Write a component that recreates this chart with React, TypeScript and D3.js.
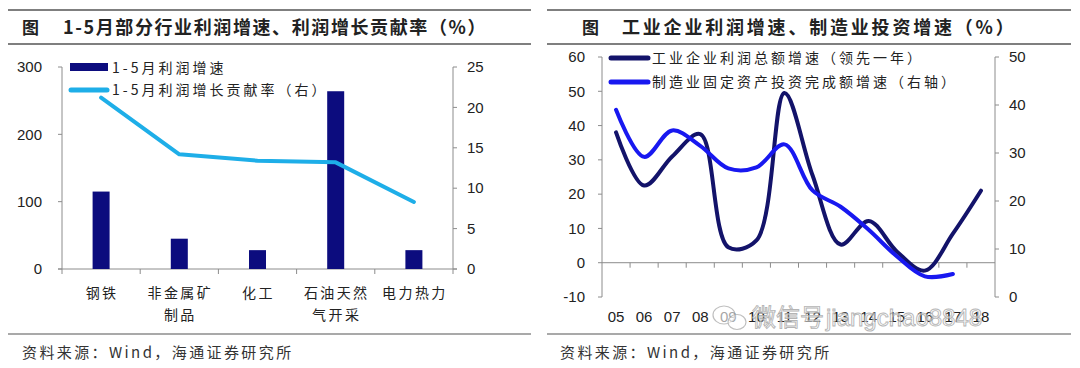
import React, { useEffect, useRef } from 'react';
import * as d3 from 'd3';

// left chart: 1-5月部分行业
const industries = ['钢铁', '非金属矿\n制品', '化工', '石油天然\n气开采', '电力热力'];
const profitGrowth = [115, 45, 28, 264, 28];
const contribution = [21.2, 14.2, 13.4, 13.2, 8.3];
const leftTicks = [0, 100, 200, 300];
const rightTicks = [0, 5, 10, 15, 20, 25];

// right chart: annual series
const years = ['05', '06', '07', '08', '09', '10', '11', '12', '13', '14', '15', '16', '17', '18'];
const profitTotal = [38, 22.5, 31, 37.5, 4.5, 6.5, 49.5, 25.5, 5.3, 12.2, 3.3, -2.3, 8.5, 21];
const mfgInvest = [39, 29.2, 34.7, 31.5, 26.8, 27, 31.8, 22.2, 18.8, 14, 8.5, 4.3, 4.8];
const profitTicks = [-10, 0, 10, 20, 30, 40, 50, 60];
const investTicks = [0, 10, 20, 30, 40, 50];

const CJK = '"Noto Sans CJK SC", sans-serif';
const LAT = '"Liberation Sans", Arial, sans-serif';
const AXIS = '#8c8c8c';

const App = () => {
    const ref = useRef<SVGSVGElement>(null);

    useEffect(() => {
        const svg = d3.select(ref.current);
        svg.selectAll('*').remove();

        // frame: rules, titles, sources
        const panels = [
            { x0: 8, x1: 531, icon: 22, tx: 63, ls: 1.6, title: '1-5月部分行业利润增速、利润增长贡献率（%）', src: 22 },
            { x0: 547, x1: 1071, icon: 582, tx: 622, ls: 2.8, title: '工业企业利润增速、制造业投资增速（%）', src: 560 },
        ];
        panels.forEach(p => {
            [10, 44].forEach(y =>
                svg.append('line')
                    .attr('x1', p.x0).attr('x2', p.x1).attr('y1', y).attr('y2', y)
                    .attr('stroke', '#7f7f7f').attr('stroke-width', 2)
            );
            svg.append('line')
                .attr('x1', p.x0).attr('x2', p.x1).attr('y1', 334).attr('y2', 334)
                .attr('stroke', '#555').attr('stroke-width', 1.2);
            svg.append('text')
                .attr('x', p.icon).attr('y', 34)
                .style('font', `bold 17px ${CJK}`).attr('fill', '#222')
                .text('图');
            svg.append('text')
                .attr('x', p.tx).attr('y', 34)
                .style('font', `bold 18px ${CJK}`).style('letter-spacing', `${p.ls}px`)
                .attr('fill', '#222')
                .text(p.title);
            svg.append('text')
                .attr('x', p.src).attr('y', 358)
                .style('font', `15px ${CJK}`).style('letter-spacing', '2.4px').attr('fill', '#333')
                .text('资料来源：Wind，海通证券研究所');
        });

        // ---------- left chart ----------
        const L = { x0: 62, x1: 453, top: 67, bot: 269 };
        const xb = d3.scaleBand().domain(industries).range([L.x0, L.x1]);
        const yl = d3.scaleLinear().domain([0, 300]).range([L.bot, L.top]);
        const yr = d3.scaleLinear().domain([0, 25]).range([L.bot, L.top]);
        const gl = svg.append('g');

        gl.append('line').attr('x1', L.x0).attr('x2', L.x0).attr('y1', L.top).attr('y2', L.bot).attr('stroke', AXIS);
        gl.append('line').attr('x1', L.x1).attr('x2', L.x1).attr('y1', L.top).attr('y2', L.bot).attr('stroke', AXIS);
        gl.append('line').attr('x1', L.x0 - 4).attr('x2', L.x1 + 4).attr('y1', L.bot).attr('y2', L.bot).attr('stroke', AXIS);
        leftTicks.forEach(t => {
            gl.append('line').attr('x1', L.x0 - 4).attr('x2', L.x0).attr('y1', yl(t)).attr('y2', yl(t)).attr('stroke', AXIS);
            gl.append('text').attr('x', 42).attr('y', yl(t)).attr('dy', '0.35em')
                .attr('text-anchor', 'end').style('font', `15px ${LAT}`).attr('fill', '#222').text(t);
        });
        rightTicks.forEach(t => {
            gl.append('line').attr('x1', L.x1).attr('x2', L.x1 + 4).attr('y1', yr(t)).attr('y2', yr(t)).attr('stroke', AXIS);
            gl.append('text').attr('x', 467).attr('y', yr(t)).attr('dy', '0.35em')
                .style('font', `15px ${LAT}`).attr('fill', '#222').text(t);
        });
        industries.forEach(c => {
            const x = xb(c)!;
            gl.append('line').attr('x1', x).attr('x2', x).attr('y1', L.bot).attr('y2', L.bot + 5).attr('stroke', AXIS);
        });
        gl.append('line').attr('x1', L.x1).attr('x2', L.x1).attr('y1', L.bot).attr('y2', L.bot + 5).attr('stroke', AXIS);

        const bw = 17;
        gl.selectAll('rect.bar').data(profitGrowth).enter().append('rect')
            .attr('x', (d, i) => xb(industries[i])! + xb.bandwidth() / 2 - bw / 2)
            .attr('y', d => yl(d))
            .attr('width', bw)
            .attr('height', d => L.bot - yl(d))
            .attr('fill', '#0c0c7e');

        const lineL = d3.line<number>()
            .x((d, i) => xb(industries[i])! + xb.bandwidth() / 2)
            .y(d => yr(d));
        gl.append('path').attr('d', lineL(contribution))
            .attr('fill', 'none').attr('stroke', '#1eaee8').attr('stroke-width', 4)
            .attr('stroke-linejoin', 'round').attr('stroke-linecap', 'round');

        industries.forEach(c => {
            const cx = xb(c)! + xb.bandwidth() / 2;
            c.split('\n').forEach((s, k) => {
                gl.append('text').attr('x', cx + 1).attr('y', 298 + k * 22)
                    .attr('text-anchor', 'middle')
                    .style('font', `14px ${CJK}`).style('letter-spacing', '2.4px')
                    .attr('fill', '#222').text(s);
            });
        });

        // legend
        gl.append('rect').attr('x', 70).attr('y', 63).attr('width', 38).attr('height', 8).attr('fill', '#0c0c7e');
        gl.append('line').attr('x1', 71).attr('x2', 107).attr('y1', 90).attr('y2', 90)
            .attr('stroke', '#1eaee8').attr('stroke-width', 5).attr('stroke-linecap', 'round');
        [['1-5月利润增速', 68], ['1-5月利润增长贡献率（右）', 90]].forEach(([s, y]) =>
            gl.append('text').attr('x', 112).attr('y', y as number).attr('dy', '0.36em')
                .style('font', `14px ${CJK}`).style('letter-spacing', '3px')
                .attr('fill', '#222').text(s as string)
        );

        // ---------- right chart ----------
        const R = { x0: 602, x1: 995, top: 57, bot: 297 };
        const xr = d3.scaleBand().domain(years).range([R.x0, R.x1]);
        const ya = d3.scaleLinear().domain([-10, 60]).range([R.bot, R.top]);
        const yb = d3.scaleLinear().domain([0, 50]).range([R.bot, R.top]);
        const gr = svg.append('g');
        const y0 = ya(0);

        gr.append('line').attr('x1', R.x0).attr('x2', R.x0).attr('y1', R.top).attr('y2', R.bot).attr('stroke', AXIS);
        gr.append('line').attr('x1', R.x1).attr('x2', R.x1).attr('y1', R.top).attr('y2', R.bot).attr('stroke', AXIS);
        gr.append('line').attr('x1', R.x0).attr('x2', R.x1).attr('y1', y0).attr('y2', y0).attr('stroke', AXIS);
        profitTicks.forEach(t => {
            gr.append('line').attr('x1', R.x0 - 4).attr('x2', R.x0).attr('y1', ya(t)).attr('y2', ya(t)).attr('stroke', AXIS);
            gr.append('text').attr('x', 585).attr('y', ya(t)).attr('dy', '0.35em')
                .attr('text-anchor', 'end').style('font', `15px ${LAT}`).attr('fill', '#222').text(t);
        });
        investTicks.forEach(t => {
            gr.append('line').attr('x1', R.x1).attr('x2', R.x1 + 4).attr('y1', yb(t)).attr('y2', yb(t)).attr('stroke', AXIS);
            gr.append('text').attr('x', 1009).attr('y', yb(t)).attr('dy', '0.35em')
                .style('font', `15px ${LAT}`).attr('fill', '#222').text(t);
        });
        years.slice(1).forEach(c => {
            const x = xr(c)!;
            gr.append('line').attr('x1', x).attr('x2', x).attr('y1', y0).attr('y2', y0 + 5).attr('stroke', AXIS);
        });

        const cxr = (i: number) => xr(years[i])! + xr.bandwidth() / 2;
        const smooth = d3.curveCatmullRom.alpha(0.5);
        gr.append('path')
            .attr('d', d3.line<number>().x((d, i) => cxr(i)).y(d => ya(d)).curve(smooth)(profitTotal))
            .attr('fill', 'none').attr('stroke', '#13136a').attr('stroke-width', 4).attr('stroke-linecap', 'round');
        gr.append('path')
            .attr('d', d3.line<number>().x((d, i) => cxr(i)).y(d => yb(d)).curve(smooth)(mfgInvest))
            .attr('fill', 'none').attr('stroke', '#1818f0').attr('stroke-width', 4).attr('stroke-linecap', 'round');

        years.forEach((c, i) => {
            gr.append('text').attr('x', cxr(i)).attr('y', 317).attr('dy', '0.35em')
                .attr('text-anchor', 'middle').style('font', `15px ${LAT}`).attr('fill', '#222').text(c);
        });

        gr.append('line').attr('x1', 611).attr('x2', 648).attr('y1', 58).attr('y2', 58)
            .attr('stroke', '#13136a').attr('stroke-width', 5).attr('stroke-linecap', 'round');
        gr.append('line').attr('x1', 611).attr('x2', 648).attr('y1', 82).attr('y2', 82)
            .attr('stroke', '#1818f0').attr('stroke-width', 5).attr('stroke-linecap', 'round');
        [['工业企业利润总额增速（领先一年）', 58], ['制造业固定资产投资完成额增速（右轴）', 82]].forEach(([s, y]) =>
            gr.append('text').attr('x', 652).attr('y', y as number).attr('dy', '0.36em')
                .style('font', `14px ${CJK}`).style('letter-spacing', '3px')
                .attr('fill', '#222').text(s as string)
        );

        // watermark
        const wm = svg.append('g').attr('opacity', 0.85);
        wm.append('ellipse').attr('cx', 724).attr('cy', 315).attr('rx', 11).attr('ry', 9)
            .attr('fill', 'rgba(255,255,255,0.7)').attr('stroke', '#b5b5b5').attr('stroke-width', 1.2);
        wm.append('ellipse').attr('cx', 737).attr('cy', 322).attr('rx', 9).attr('ry', 7.5)
            .attr('fill', 'rgba(255,255,255,0.7)').attr('stroke', '#b5b5b5').attr('stroke-width', 1.2);
        wm.append('text').attr('x', 752).attr('y', 326)
            .style('font', `24px ${CJK}`).attr('fill', 'rgba(255,255,255,0.75)')
            .attr('stroke', '#a8a8a8').attr('stroke-width', 0.9)
            .text('微信号');
        wm.append('text').attr('x', 826).attr('y', 326)
            .style('font', `24px ${LAT}`).attr('fill', 'rgba(255,255,255,0.75)')
            .attr('stroke', '#a8a8a8').attr('stroke-width', 0.9)
            .text('jiangchao8848');
    }, []);

    return (
        <svg ref={ref} width={1080} height={368}
            style={{ position: 'absolute', left: 0, top: 0, background: '#fff' }} />
    );
};

export default App;
